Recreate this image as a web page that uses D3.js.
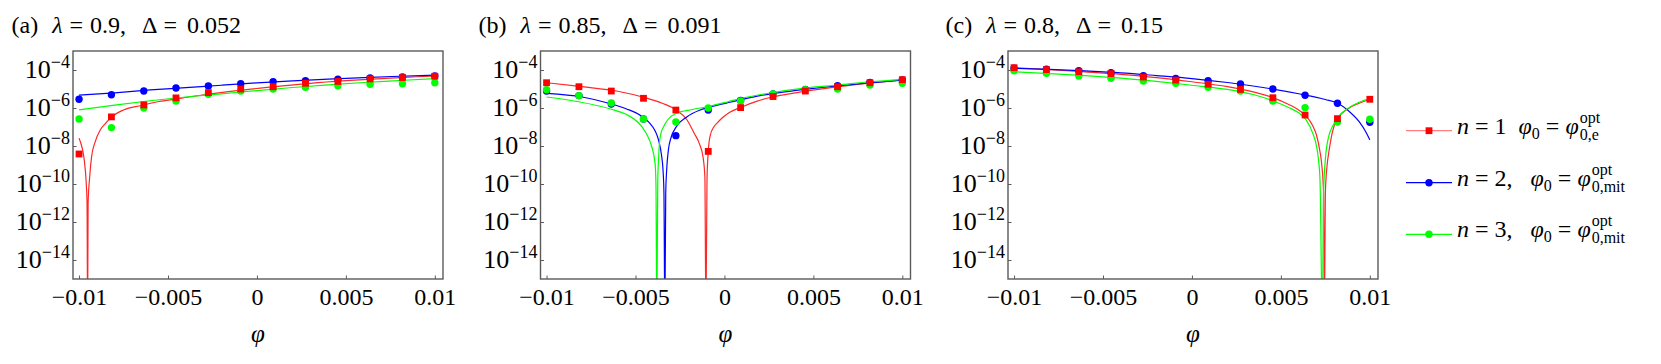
<!DOCTYPE html>
<html><head><meta charset="utf-8">
<script src="https://cdn.jsdelivr.net/npm/d3@7"></script>
<style>
body{margin:0;background:#fff}
svg{display:block}
svg text{font-family:"Liberation Serif","DejaVu Serif","Noto Serif",serif !important;fill:#000}
</style>
</head><body>
<svg id="chart" width="1661" height="364"></svg>
<script>
// ---------- data ----------
const phiPoints = [-0.01, -0.00818, -0.00636, -0.00455, -0.00273, -0.00091, 0.00091, 0.00273, 0.00455, 0.00636, 0.00818, 0.01];
const xTickValues = [-0.01, -0.005, 0, 0.005, 0.01];
const xTickLabels = ["−0.01", "−0.005", "0", "0.005", "0.01"];
const yTickValues = [1e-4, 1e-6, 1e-8, 1e-10, 1e-12, 1e-14];
const yTickExponents = ["−4", "−6", "−8", "−10", "−12", "−14"];
const seriesNames = ["n = 1", "n = 2", "n = 3"];
const seriesColors = ["#ff0000", "#0000ff", "#00ff00"];

const titleA = ["(a)", "λ", "=", "0.9,", "Δ", "=", "0.052"];
const titleB = ["(b)", "λ", "=", "0.85,", "Δ", "=", "0.091"];
const titleC = ["(c)", "λ", "=", "0.8,", "Δ", "=", "0.15"];

// panel (a)  λ = 0.9
const a1Pts = [3.8e-9, 3.4e-7, 1.45e-6, 3.4e-6, 6.45e-6, 1.0e-5, 1.32e-5, 2.0e-5, 2.5e-5, 3.4e-5, 4.0e-5, 4.7e-5];
const a2Pts = [2.88e-6, 5.0e-6, 7.85e-6, 1.12e-5, 1.45e-5, 1.9e-5, 2.45e-5, 2.75e-5, 3.24e-5, 3.8e-5, 4.27e-5, 4.8e-5];
const a3Pts = [2.63e-7, 9.3e-8, 1.0e-6, 2.35e-6, 5.25e-6, 7.85e-6, 1.0e-5, 1.23e-5, 1.48e-5, 1.78e-5, 1.9e-5, 2.14e-5];
const a1Curve = [[-0.01,2.6e-8],[-0.0099,1.4e-8],[-0.0098,6.3e-9],[-0.0097,1.6e-9],[-0.0096,1.26e-10],[-0.00955,1e-11],[-0.00952,1e-17],[-0.00949,1e-11],[-0.0094,2.5e-10],[-0.0093,2.5e-9],[-0.0091,1.6e-8],[-0.0088,7.1e-8],[-0.0085,1.6e-7],[-0.0082,3.2e-7],[-0.0075,7.9e-7],[-0.0065,1.35e-6],[-0.0055,2.2e-6],[-0.0045,3.0e-6],[-0.003,5.0e-6],[-0.001,8.5e-6],[0.001,1.32e-5],[0.003,2.0e-5],[0.005,2.75e-5],[0.007,3.55e-5],[0.009,4.4e-5],[0.01,4.9e-5]];
const a2Curve = [[-0.01,4.8e-6],[-0.008,6.3e-6],[-0.006,8.9e-6],[-0.004,1.17e-5],[-0.002,1.58e-5],[0,2.1e-5],[0.002,2.7e-5],[0.004,3.3e-5],[0.006,4.0e-5],[0.008,4.7e-5],[0.01,5.4e-5]];
const a3Curve = [[-0.01,7.9e-7],[-0.008,1.41e-6],[-0.006,2.4e-6],[-0.004,3.8e-6],[-0.002,5.6e-6],[0,8.3e-6],[0.002,1.2e-5],[0.004,1.66e-5],[0.006,2.2e-5],[0.008,2.8e-5],[0.01,3.55e-5]];

// panel (b)  λ = 0.85
const b1Pts = [2.14e-5, 1.32e-5, 7.8e-6, 3.24e-6, 7.8e-7, 5.2e-9, 1.05e-6, 4.0e-6, 7.8e-6, 1.32e-5, 2.14e-5, 3.1e-5];
const b2Pts = [7.8e-6, 4.5e-6, 1.62e-6, 2.63e-7, 3.5e-8, 7.8e-7, 2.5e-6, 5.5e-6, 9.5e-6, 1.48e-5, 2.24e-5, 2.95e-5];
const b3Pts = [9.1e-6, 4.5e-6, 1.82e-6, 2.63e-7, 1.82e-7, 1.0e-6, 2.35e-6, 5.5e-6, 9.1e-6, 1.0e-5, 1.62e-5, 2.0e-5];
const b1Curve = [[-0.01,2.14e-5],[-0.008,1.32e-5],[-0.006,7.6e-6],[-0.0045,3.55e-6],[-0.0035,1.78e-6],[-0.0027,7.8e-7],[-0.0021,2.34e-7],[-0.0017,4.7e-8],[-0.0014,1.26e-8],[-0.0012,2.5e-9],[-0.0011,2.5e-10],[-0.00104,1e-17],[-0.00098,1.6e-10],[-0.00091,5.0e-9],[-0.0008,3.55e-8],[-0.0006,1.0e-7],[-0.0004,1.66e-7],[-0.0001,3.16e-7],[0.0003,6.0e-7],[0.0009,1.07e-6],[0.0018,2.24e-6],[0.0027,3.8e-6],[0.004,6.3e-6],[0.006,1.17e-5],[0.008,1.95e-5],[0.01,3.0e-5]];
const b2Curve = [[-0.01,5.9e-6],[-0.008,3.8e-6],[-0.0065,1.78e-6],[-0.0055,8.9e-7],[-0.0048,4.5e-7],[-0.0042,1.6e-7],[-0.0039,6.3e-8],[-0.0037,2.0e-8],[-0.00355,4.0e-9],[-0.00345,5.0e-10],[-0.0034,3.2e-11],[-0.00335,1e-17],[-0.0033,3.2e-11],[-0.00325,5.0e-10],[-0.00315,6.3e-9],[-0.003,2.8e-8],[-0.0027,1.05e-7],[-0.0021,3.5e-7],[-0.0014,7.6e-7],[-0.0009,1.07e-6],[-0.0001,1.66e-6],[0.0009,2.7e-6],[0.002,4.5e-6],[0.003,6.3e-6],[0.0045,9.5e-6],[0.006,1.35e-5],[0.008,2.04e-5],[0.01,2.9e-5]];
const b3Curve = [[-0.01,3.8e-6],[-0.0082,2.14e-6],[-0.0064,8.9e-7],[-0.0055,4.5e-7],[-0.0049,1.9e-7],[-0.0044,4.7e-8],[-0.0041,1.0e-8],[-0.0039,1.26e-9],[-0.00385,1e-10],[-0.0038,1e-17],[-0.00375,1e-10],[-0.0037,2.5e-9],[-0.0036,3.55e-8],[-0.0034,1.12e-7],[-0.0032,2.34e-7],[-0.0027,5.25e-7],[-0.0018,8.3e-7],[-0.0009,1.2e-6],[0.0002,2.14e-6],[0.0009,3.16e-6],[0.0027,6.45e-6],[0.0045,1.1e-5],[0.0064,1.62e-5],[0.0082,2.4e-5],[0.01,3.24e-5]];

// panel (c)  λ = 0.8
const c1Pts = [1.32e-4, 1.05e-4, 8.1e-5, 6.45e-5, 4.27e-5, 2.95e-5, 1.78e-5, 9.5e-6, 3.47e-6, 4.27e-7, 2.75e-7, 2.88e-6];
const c2Pts = [1.23e-4, 1.1e-4, 9.1e-5, 7.2e-5, 5.0e-5, 3.63e-5, 2.75e-5, 1.82e-5, 1.0e-5, 4.7e-6, 1.78e-6, 1.78e-7];
const c3Pts = [9.1e-5, 6.8e-5, 4.8e-5, 3.63e-5, 2.63e-5, 2.0e-5, 1.23e-5, 7.8e-6, 2.34e-6, 1.05e-6, 1.82e-7, 2.57e-7];
const c1Curve = [[-0.01,1.32e-4],[-0.008,1.05e-4],[-0.006,7.9e-5],[-0.004,5.9e-5],[-0.002,4.0e-5],[0,2.4e-5],[0.002,1.32e-5],[0.0035,6.8e-6],[0.0045,3.63e-6],[0.0055,1.45e-6],[0.006,7.9e-7],[0.0064,4.0e-7],[0.0068,1.12e-7],[0.007,3.8e-8],[0.0072,5.0e-9],[0.0073,1.0e-9],[0.0074,3.2e-11],[0.00745,1e-17],[0.0075,3.2e-11],[0.0076,1.0e-9],[0.0077,5.0e-9],[0.0079,5.6e-8],[0.0082,2.75e-7],[0.0088,9.5e-7],[0.0094,1.78e-6],[0.01,2.88e-6]];
const c2Curve = [[-0.01,1.23e-4],[-0.008,1.07e-4],[-0.006,8.9e-5],[-0.004,7.1e-5],[-0.002,5.1e-5],[0,3.55e-5],[0.002,2.2e-5],[0.004,1.2e-5],[0.006,5.6e-6],[0.0075,2.8e-6],[0.0082,1.78e-6],[0.0088,7.1e-7],[0.0094,1.9e-7],[0.0098,5.0e-8],[0.01,2.1e-8]];
const c3Curve = [[-0.01,8.1e-5],[-0.008,6.45e-5],[-0.006,5.0e-5],[-0.004,3.7e-5],[-0.002,2.5e-5],[0,1.58e-5],[0.002,9.5e-6],[0.0035,5.0e-6],[0.0045,2.5e-6],[0.0055,1.0e-6],[0.006,5.6e-7],[0.0064,2.5e-7],[0.0068,4.5e-8],[0.007,1.0e-8],[0.0071,2.5e-9],[0.0072,1.6e-10],[0.00733,1e-17],[0.0074,3.2e-11],[0.0075,2.0e-9],[0.0077,3.55e-8],[0.0079,1.05e-7],[0.0082,3.16e-7],[0.0088,1.0e-6],[0.0094,2.0e-6],[0.01,3.16e-6]];

// ---------- layout ----------
const W = 370, TOP = 51, BOTTOM = 279;
const panels = [
  {left: 73,    titleX: 11.5, title: titleA, pts: [a1Pts, a2Pts, a3Pts], curves: [a1Curve, a2Curve, a3Curve]},
  {left: 540.5, titleX: 478.5, title: titleB, pts: [b1Pts, b2Pts, b3Pts], curves: [b1Curve, b2Curve, b3Curve]},
  {left: 1008,  titleX: 945.5, title: titleC, pts: [c1Pts, c2Pts, c3Pts], curves: [c1Curve, c2Curve, c3Curve]}
];
const titleGaps = [14, 7, 7, 16, 6, 10];
const frameColor = "#5a5a5a";
const FONT = '"Liberation Serif","DejaVu Serif","Noto Serif",serif';

const svg = d3.select("#chart");
const defs = svg.append("defs");

function marker(g, shape, color, cx, cy) {
  if (shape === "square") {
    g.append("rect").attr("x", cx - 3.4).attr("y", cy - 3.4).attr("width", 6.8).attr("height", 6.8).attr("fill", color);
  } else {
    g.append("circle").attr("cx", cx).attr("cy", cy).attr("r", 3.7).attr("fill", color);
  }
}
const shapes = ["square", "circle", "circle"];

panels.forEach((p, pi) => {
  const x = d3.scaleLinear().domain([-0.01034, 0.01046]).range([p.left, p.left + W]);
  const y = d3.scaleLog().domain([1e-15, 1e-3]).range([BOTTOM, TOP]);
  const g = svg.append("g").attr("font-family", FONT);

  // title
  const tt = g.append("text").attr("y", 33).attr("font-size", 24);
  let cx = p.titleX;
  p.title.forEach((s, i) => {
    const ts = tt.append("tspan").attr("x", cx).text(s);
    if (s === "λ") ts.attr("font-style", "italic");
    cx += ts.node().getComputedTextLength() + (titleGaps[i] || 0);
  });

  // clip
  const cid = "clip" + pi;
  defs.append("clipPath").attr("id", cid).append("rect")
    .attr("x", p.left).attr("y", TOP).attr("width", W).attr("height", BOTTOM - TOP);

  // x axis
  const xa = g.append("g").attr("transform", `translate(0,${BOTTOM})`)
    .call(d3.axisBottom(x).tickValues(xTickValues).tickSizeInner(-3.5).tickSizeOuter(0)
      .tickFormat((d, i) => xTickLabels[i]));
  xa.attr("font-family", FONT);
  xa.select(".domain").remove();
  xa.selectAll(".tick line").attr("stroke", frameColor).attr("stroke-width", 1);
  xa.selectAll(".tick text").attr("y", 26).attr("dy", 0).attr("font-size", 24).attr("fill", "#000");

  // y axis
  const ya = g.append("g").attr("transform", `translate(${p.left},0)`)
    .call(d3.axisLeft(y).tickValues(yTickValues).tickSizeInner(-3.5).tickSizeOuter(0).tickFormat(""));
  ya.attr("font-family", FONT);
  ya.select(".domain").remove();
  ya.selectAll(".tick line").attr("stroke", frameColor).attr("stroke-width", 1);
  ya.selectAll(".tick text").remove();
  ya.selectAll(".tick").each(function(d, i) {
    const t = d3.select(this).append("text").attr("x", -3).attr("y", 7)
      .attr("text-anchor", "end").attr("font-size", 26).attr("fill", "#000");
    t.append("tspan").text("10");
    t.append("tspan").attr("dy", -10).attr("font-size", 18).text(yTickExponents[i]);
  });

  // curves
  const plot = g.append("g").attr("clip-path", `url(#${cid})`);
  const line = d3.line().x(d => x(d[0])).y(d => y(d[1])).curve(d3.curveMonotoneX);
  p.curves.forEach((c, si) => {
    plot.append("path").datum(c).attr("d", line).attr("fill", "none")
      .attr("stroke", seriesColors[si]).attr("stroke-width", 1.2)
      .attr("stroke-opacity", si === 0 ? 0.85 : 1);
  });
  // points (blue, green, then red on top)
  [1, 2, 0].forEach(si => {
    p.pts[si].forEach((v, k) => marker(plot, shapes[si], seriesColors[si], x(phiPoints[k]), y(v)));
  });

  // frame
  g.append("rect").attr("x", p.left).attr("y", TOP).attr("width", W).attr("height", BOTTOM - TOP)
    .attr("fill", "none").attr("stroke", frameColor).attr("stroke-width", 1.4);

  // axis label
  g.append("text").attr("x", p.left + W / 2).attr("y", 342).attr("text-anchor", "middle")
    .attr("font-size", 25).attr("font-style", "italic").text("φ");
});

// ---------- legend ----------
const legendRows = [
  {y: 130.7, label: "n = 1", sep: " ", sub: "0,e", op: 0.5},
  {y: 182.7, label: "n = 2,", sep: "  ", sub: "0,mit", op: 1},
  {y: 234.3, label: "n = 3,", sep: "  ", sub: "0,mit", op: 1}
];
const lg = svg.append("g").attr("font-family", FONT);
legendRows.forEach((r, i) => {
  lg.append("line").attr("x1", 1406).attr("x2", 1452).attr("y1", r.y).attr("y2", r.y)
    .attr("stroke", seriesColors[i]).attr("stroke-width", 1.3).attr("stroke-opacity", r.op);
  marker(lg, shapes[i], seriesColors[i], 1429, r.y);
  const t = lg.append("text").attr("x", 1457).attr("y", r.y + 3).attr("font-size", 24).attr("xml:space", "preserve");
  const parts = r.label.split(" ");
  t.append("tspan").attr("font-style", "italic").text(parts[0]);
  t.append("tspan").text(" = " + parts[2] + r.sep + " ");
  t.append("tspan").attr("font-style", "italic").text("φ");
  t.append("tspan").attr("font-size", 16).attr("dy", 5).text("0");
  t.append("tspan").attr("dy", -5).text(" = ");
  t.append("tspan").attr("font-style", "italic").text("φ");
  const bb = t.node().getBBox();
  const sx = bb.x + bb.width + 1;
  lg.append("text").attr("x", sx).attr("y", r.y - 8).attr("font-size", 16).text("opt");
  lg.append("text").attr("x", sx).attr("y", r.y + 9).attr("font-size", 16).text(r.sub);
});
</script>
</body></html>
